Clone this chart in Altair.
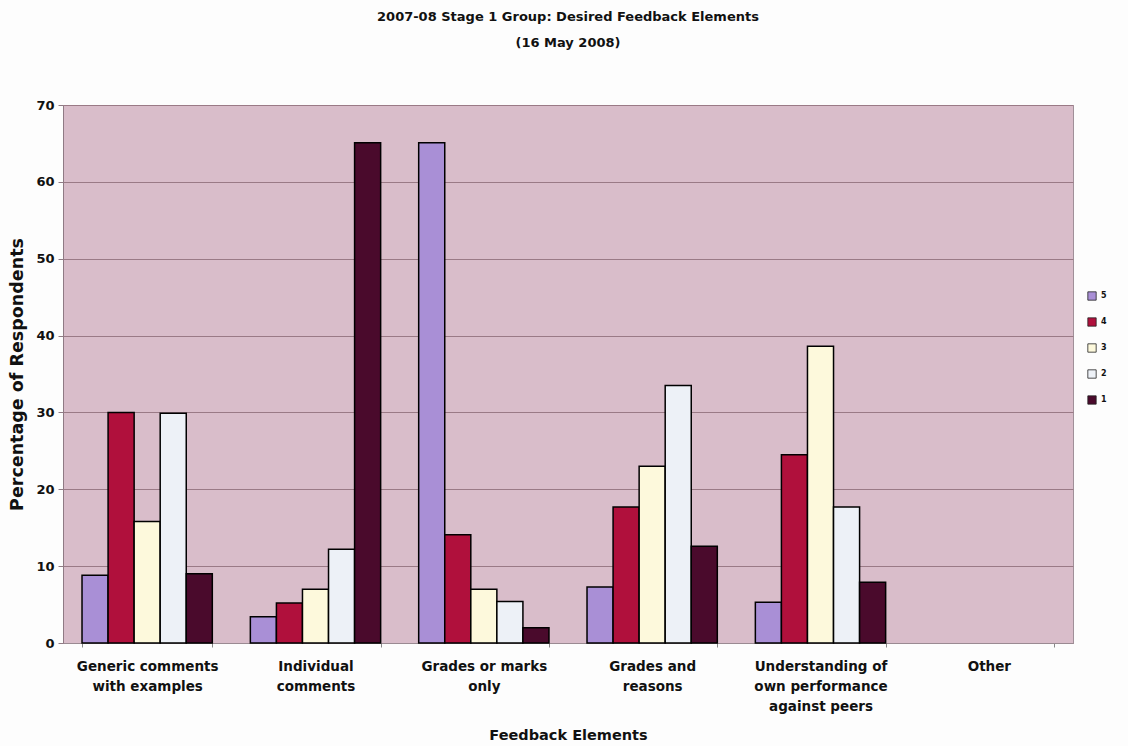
import altair as alt
import pandas as pd

# Feedback element categories (line breaks give the wrapped axis labels)
categories = [
    "Generic comments\nwith examples",
    "Individual\ncomments",
    "Grades or marks\nonly",
    "Grades and\nreasons",
    "Understanding of\nown performance\nagainst peers",
    "Other",
]

# Rating series, drawn left to right inside each group
series = ["5", "4", "3", "2", "1"]

# Percentage of respondents per rating, one value per category
pct_5 = [8.8, 3.4, 65.1, 7.3, 5.3, 0.0]
pct_4 = [30.0, 5.2, 14.1, 17.7, 24.5, 0.0]
pct_3 = [15.8, 7.0, 7.0, 23.0, 38.6, 0.0]
pct_2 = [29.9, 12.2, 5.4, 33.5, 17.7, 0.0]
pct_1 = [9.0, 65.1, 2.0, 12.6, 7.9, 0.0]

y_ticks = [0, 10, 20, 30, 40, 50, 60, 70]

colors = ["#a98fd6", "#b0103c", "#fdf9dc", "#edf1f7", "#4a0a2c"]

rows = []
for s, vals in zip(series, [pct_5, pct_4, pct_3, pct_2, pct_1]):
    for c, v in zip(categories, vals):
        if v > 0:
            rows.append({"category": c, "series": s, "value": v})
df = pd.DataFrame(rows)

FONT = "DejaVu Sans"

chart = (
    alt.Chart(df)
    .mark_bar(stroke="black", strokeWidth=1.5)
    .encode(
        x=alt.X(
            "category:N",
            sort=categories,
            scale=alt.Scale(domain=categories, paddingInner=0.226, paddingOuter=0.113),
            axis=alt.Axis(
                title="Feedback Elements",
                labelAngle=0,
                labelExpr="split(datum.label, '\\n')",
                labelFont=FONT,
                labelFontWeight="bold",
                labelFontSize=13.5,
                labelColor="#111111",
                labelLineHeight=20,
                labelPadding=12,
                labelBaseline="top",
                tickBand="extent",
                tickSize=4,
                tickColor="#888888",
                domainColor="#9a8a92",
                titleFont=FONT,
                titleFontWeight="bold",
                titleFontSize=14.5,
                titleColor="#111111",
                titlePadding=16,
                grid=False,
            ),
        ),
        xOffset=alt.XOffset("series:N", scale=alt.Scale(domain=series, paddingInner=0, paddingOuter=0)),
        y=alt.Y(
            "value:Q",
            scale=alt.Scale(domain=[0, 70], nice=False),
            axis=alt.Axis(
                title="Percentage of Respondents",
                values=y_ticks,
                labelFont=FONT,
                labelFontWeight="bold",
                labelFontSize=13,
                labelColor="#111111",
                labelPadding=4,
                tickSize=5,
                tickColor="#8f7a84",
                domainColor="#8f7a84",
                grid=True,
                gridColor="#9a7a86",
                gridWidth=1,
                titleFont=FONT,
                titleFontWeight="bold",
                titleFontSize=17.5,
                titleColor="#111111",
                titlePadding=9,
            ),
        ),
        color=alt.Color(
            "series:N",
            scale=alt.Scale(domain=series, range=colors),
            legend=alt.Legend(
                title=None,
                orient="none",
                legendX=1024,
                legendY=186,
                symbolType="square",
                symbolSize=70,
                symbolStrokeColor="#222222",
                symbolStrokeWidth=0.8,
                labelFont=FONT,
                labelFontWeight="bold",
                labelFontSize=8,
                labelColor="#111111",
                rowPadding=14,
            ),
        ),
    )
    .properties(
        width=1010,
        height=538,
        title=alt.TitleParams(
            text=["2007-08 Stage 1 Group: Desired Feedback Elements", "(16 May 2008)"],
            font=FONT,
            fontWeight="bold",
            fontSize=13,
            color="#111111",
            lineHeight=26,
            anchor="middle",
            offset=49,
        ),
        autosize=alt.AutoSizeParams(type="none"),
        padding={"left": 63, "top": 105, "right": 55, "bottom": 103},
        background="#fdfdfd",
    )
    .configure_view(fill="#d9bdca", stroke="#a09099", strokeWidth=1)
)

chart.save("out.html", embed_options={"renderer": "svg", "actions": False})
